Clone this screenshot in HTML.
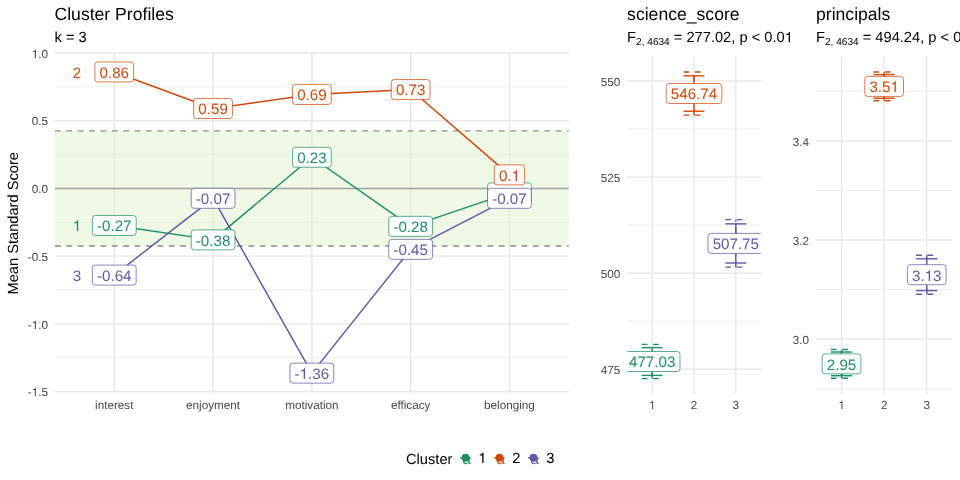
<!DOCTYPE html>
<html><head><meta charset="utf-8"><title>Cluster Profiles</title>
<style>
html,body{margin:0;padding:0;background:#fff;}
body{width:960px;height:480px;overflow:hidden;}
svg{display:block;font-family:"Liberation Sans", sans-serif;will-change:transform;}
svg text{text-rendering:geometricPrecision;}
</style></head><body>
<svg width="960" height="480" viewBox="0 0 960 480">
<rect width="960" height="480" fill="#ffffff"/>
<line x1="55.0" x2="568.75" y1="86.85" y2="86.85" stroke="#e8e8e8" stroke-width="0.71"/>
<line x1="55.0" x2="568.75" y1="154.56" y2="154.56" stroke="#e8e8e8" stroke-width="0.71"/>
<line x1="55.0" x2="568.75" y1="222.27" y2="222.27" stroke="#e8e8e8" stroke-width="0.71"/>
<line x1="55.0" x2="568.75" y1="289.99" y2="289.99" stroke="#e8e8e8" stroke-width="0.71"/>
<line x1="55.0" x2="568.75" y1="357.69" y2="357.69" stroke="#e8e8e8" stroke-width="0.71"/>
<line x1="55.0" x2="568.75" y1="53.00" y2="53.00" stroke="#e8e8e8" stroke-width="1.42"/>
<line x1="55.0" x2="568.75" y1="120.71" y2="120.71" stroke="#e8e8e8" stroke-width="1.42"/>
<line x1="55.0" x2="568.75" y1="188.42" y2="188.42" stroke="#e8e8e8" stroke-width="1.42"/>
<line x1="55.0" x2="568.75" y1="256.13" y2="256.13" stroke="#e8e8e8" stroke-width="1.42"/>
<line x1="55.0" x2="568.75" y1="323.84" y2="323.84" stroke="#e8e8e8" stroke-width="1.42"/>
<line x1="55.0" x2="568.75" y1="391.55" y2="391.55" stroke="#e8e8e8" stroke-width="1.42"/>
<line x1="114.28" x2="114.28" y1="53.0" y2="393.4" stroke="#e8e8e8" stroke-width="1.42"/>
<line x1="213.08" x2="213.08" y1="53.0" y2="393.4" stroke="#e8e8e8" stroke-width="1.42"/>
<line x1="311.88" x2="311.88" y1="53.0" y2="393.4" stroke="#e8e8e8" stroke-width="1.42"/>
<line x1="410.67" x2="410.67" y1="53.0" y2="393.4" stroke="#e8e8e8" stroke-width="1.42"/>
<line x1="509.47" x2="509.47" y1="53.0" y2="393.4" stroke="#e8e8e8" stroke-width="1.42"/>
<rect x="55.0" y="130.87" width="513.75" height="115.11" fill="#dcf0c0" fill-opacity="0.42"/>
<line x1="55.0" x2="568.75" y1="188.42" y2="188.42" stroke="#a3a3a3" stroke-width="1.42"/>
<line x1="55.0" x2="568.75" y1="130.87" y2="130.87" stroke="#8a8a8a" stroke-width="1.42" stroke-dasharray="5.69 5.69"/>
<line x1="55.0" x2="568.75" y1="245.97" y2="245.97" stroke="#8a8a8a" stroke-width="1.42" stroke-dasharray="5.69 5.69"/>
<polyline points="114.28,225.53 213.08,239.88 311.88,157.27 410.67,226.34 509.47,192.89" fill="none" stroke="#1E8F64" stroke-width="1.45" stroke-linejoin="round"/>
<polyline points="114.28,71.96 213.08,108.52 311.88,94.44 410.67,89.56 509.47,174.88" fill="none" stroke="#CE490A" stroke-width="1.45" stroke-linejoin="round"/>
<polyline points="114.28,275.09 213.08,198.31 311.88,373.13 410.67,249.36 509.47,198.31" fill="none" stroke="#6158A5" stroke-width="1.45" stroke-linejoin="round"/>
<rect x="92.39" y="215.53" width="43.77" height="20.0" rx="2.9" ry="2.9" fill="#ffffff" stroke="#1E8F64" stroke-width="0.85" stroke-opacity="0.85"/>
<text x="114.28" y="231" font-size="15.17" fill="#1E8F64" text-anchor="middle">-0.27</text>
<rect x="191.19" y="229.88" width="43.77" height="20.0" rx="2.9" ry="2.9" fill="#ffffff" stroke="#1E8F64" stroke-width="0.85" stroke-opacity="0.85"/>
<text x="213.08" y="246" font-size="15.17" fill="#1E8F64" text-anchor="middle">-0.38</text>
<rect x="292.51" y="147.27" width="38.72" height="20.0" rx="2.9" ry="2.9" fill="#ffffff" stroke="#1E8F64" stroke-width="0.85" stroke-opacity="0.85"/>
<text x="311.88" y="163" font-size="15.17" fill="#1E8F64" text-anchor="middle">0.23</text>
<rect x="388.79" y="216.34" width="43.77" height="20.0" rx="2.9" ry="2.9" fill="#ffffff" stroke="#1E8F64" stroke-width="0.85" stroke-opacity="0.85"/>
<text x="410.67" y="232" font-size="15.17" fill="#1E8F64" text-anchor="middle">-0.28</text>
<rect x="487.58" y="182.89" width="43.77" height="20.0" rx="2.9" ry="2.9" fill="#ffffff" stroke="#1E8F64" stroke-width="0.85" stroke-opacity="0.85"/>
<text x="509.47" y="199" font-size="15.17" fill="#1E8F64" text-anchor="middle">-0.03</text>
<rect x="94.92" y="61.96" width="38.72" height="20.0" rx="2.9" ry="2.9" fill="#ffffff" stroke="#CE490A" stroke-width="0.85" stroke-opacity="0.85"/>
<text x="114.28" y="78" font-size="15.17" fill="#CE490A" text-anchor="middle">0.86</text>
<rect x="193.72" y="98.52" width="38.72" height="20.0" rx="2.9" ry="2.9" fill="#ffffff" stroke="#CE490A" stroke-width="0.85" stroke-opacity="0.85"/>
<text x="213.08" y="114" font-size="15.17" fill="#CE490A" text-anchor="middle">0.59</text>
<rect x="292.51" y="84.44" width="38.72" height="20.0" rx="2.9" ry="2.9" fill="#ffffff" stroke="#CE490A" stroke-width="0.85" stroke-opacity="0.85"/>
<text x="311.88" y="100" font-size="15.17" fill="#CE490A" text-anchor="middle">0.69</text>
<rect x="391.31" y="79.56" width="38.72" height="20.0" rx="2.9" ry="2.9" fill="#ffffff" stroke="#CE490A" stroke-width="0.85" stroke-opacity="0.85"/>
<text x="410.67" y="95" font-size="15.17" fill="#CE490A" text-anchor="middle">0.73</text>
<rect x="494.33" y="164.88" width="30.29" height="20.0" rx="2.9" ry="2.9" fill="#ffffff" stroke="#CE490A" stroke-width="0.85" stroke-opacity="0.85"/>
<text x="498.93" y="181" font-size="15.17" fill="#CE490A">0.</text>
<path transform="translate(511.58,181) scale(0.01517,-0.01517)" d="M268 0L357 0L357 709L299 709C285 640 240 585 101 572L101 505L268 505Z" fill="#CE490A"/>
<rect x="92.39" y="265.09" width="43.77" height="20.0" rx="2.9" ry="2.9" fill="#ffffff" stroke="#6158A5" stroke-width="0.85" stroke-opacity="0.85"/>
<text x="114.28" y="281" font-size="15.17" fill="#6158A5" text-anchor="middle">-0.64</text>
<rect x="191.19" y="188.31" width="43.77" height="20.0" rx="2.9" ry="2.9" fill="#ffffff" stroke="#6158A5" stroke-width="0.85" stroke-opacity="0.85"/>
<text x="213.08" y="204" font-size="15.17" fill="#6158A5" text-anchor="middle">-0.07</text>
<rect x="289.99" y="363.13" width="43.77" height="20.0" rx="2.9" ry="2.9" fill="#ffffff" stroke="#6158A5" stroke-width="0.85" stroke-opacity="0.85"/>
<text x="294.59" y="379" font-size="15.17" fill="#6158A5">-</text>
<path transform="translate(299.64,379) scale(0.01517,-0.01517)" d="M268 0L357 0L357 709L299 709C285 640 240 585 101 572L101 505L268 505Z" fill="#6158A5"/>
<text x="308.07" y="379" font-size="15.17" fill="#6158A5">.36</text>
<rect x="388.79" y="239.36" width="43.77" height="20.0" rx="2.9" ry="2.9" fill="#ffffff" stroke="#6158A5" stroke-width="0.85" stroke-opacity="0.85"/>
<text x="410.67" y="255" font-size="15.17" fill="#6158A5" text-anchor="middle">-0.45</text>
<rect x="487.58" y="188.31" width="43.77" height="20.0" rx="2.9" ry="2.9" fill="#ffffff" stroke="#6158A5" stroke-width="0.85" stroke-opacity="0.85"/>
<text x="509.47" y="204" font-size="15.17" fill="#6158A5" text-anchor="middle">-0.07</text>
<path transform="translate(72.78,231) scale(0.01517,-0.01517)" d="M268 0L357 0L357 709L299 709C285 640 240 585 101 572L101 505L268 505Z" fill="#1E8F64"/>
<text x="77.00" y="78" font-size="15.17" fill="#CE490A" text-anchor="middle">2</text>
<text x="77.00" y="281" font-size="15.17" fill="#6158A5" text-anchor="middle">3</text>
<path transform="translate(31.69,58) scale(0.01173,-0.01173)" d="M268 0L357 0L357 709L299 709C285 640 240 585 101 572L101 505L268 505Z" fill="#474747"/>
<text x="38.22" y="58" font-size="11.73" fill="#474747">.0</text>
<text x="48.00" y="125" font-size="11.73" fill="#474747" text-anchor="end">0.5</text>
<text x="48.00" y="193" font-size="11.73" fill="#474747" text-anchor="end">0.0</text>
<text x="48.00" y="261" font-size="11.73" fill="#474747" text-anchor="end">-0.5</text>
<text x="27.79" y="329" font-size="11.73" fill="#474747">-</text>
<path transform="translate(31.69,329) scale(0.01173,-0.01173)" d="M268 0L357 0L357 709L299 709C285 640 240 585 101 572L101 505L268 505Z" fill="#474747"/>
<text x="38.22" y="329" font-size="11.73" fill="#474747">.0</text>
<text x="27.79" y="396" font-size="11.73" fill="#474747">-</text>
<path transform="translate(31.69,396) scale(0.01173,-0.01173)" d="M268 0L357 0L357 709L299 709C285 640 240 585 101 572L101 505L268 505Z" fill="#474747"/>
<text x="38.22" y="396" font-size="11.73" fill="#474747">.5</text>
<text x="114.28" y="409" font-size="11.73" fill="#474747" text-anchor="middle">interest</text>
<text x="213.08" y="409" font-size="11.73" fill="#474747" text-anchor="middle">enjoyment</text>
<text x="311.88" y="409" font-size="11.73" fill="#474747" text-anchor="middle">motivation</text>
<text x="410.67" y="409" font-size="11.73" fill="#474747" text-anchor="middle">efficacy</text>
<text x="509.47" y="409" font-size="11.73" fill="#474747" text-anchor="middle">belonging</text>
<text transform="translate(18,223.3) rotate(-90)" font-size="14.67" fill="#000" text-anchor="middle">Mean Standard Score</text>
<text x="54.5" y="20" font-size="17.6" fill="#000">Cluster Profiles</text>
<text x="54.5" y="42" font-size="14.67" fill="#000">k = 3</text>
<line x1="627.1" x2="760.9" y1="129.05" y2="129.05" stroke="#e8e8e8" stroke-width="0.71"/>
<line x1="627.1" x2="760.9" y1="225.15" y2="225.15" stroke="#e8e8e8" stroke-width="0.71"/>
<line x1="627.1" x2="760.9" y1="321.25" y2="321.25" stroke="#e8e8e8" stroke-width="0.71"/>
<line x1="627.1" x2="760.9" y1="81.00" y2="81.00" stroke="#e8e8e8" stroke-width="1.42"/>
<line x1="627.1" x2="760.9" y1="177.10" y2="177.10" stroke="#e8e8e8" stroke-width="1.42"/>
<line x1="627.1" x2="760.9" y1="273.20" y2="273.20" stroke="#e8e8e8" stroke-width="1.42"/>
<line x1="627.1" x2="760.9" y1="369.30" y2="369.30" stroke="#e8e8e8" stroke-width="1.42"/>
<line x1="652.19" x2="652.19" y1="56.6" y2="393.4" stroke="#e8e8e8" stroke-width="1.42"/>
<line x1="694.00" x2="694.00" y1="56.6" y2="393.4" stroke="#e8e8e8" stroke-width="1.42"/>
<line x1="735.81" x2="735.81" y1="56.6" y2="393.4" stroke="#e8e8e8" stroke-width="1.42"/>
<line x1="652.19" x2="652.19" y1="378.60" y2="344.40" stroke="#1E8F64" stroke-width="1.42" stroke-dasharray="5.69 5.69"/>
<line x1="641.73" x2="662.64" y1="344.40" y2="344.40" stroke="#1E8F64" stroke-width="1.42" stroke-dasharray="5.69 5.69"/>
<line x1="641.73" x2="662.64" y1="378.60" y2="378.60" stroke="#1E8F64" stroke-width="1.42" stroke-dasharray="5.69 5.69"/>
<line x1="652.19" x2="652.19" y1="347.60" y2="375.40" stroke="#1E8F64" stroke-width="1.42"/>
<line x1="641.73" x2="662.64" y1="347.60" y2="347.60" stroke="#1E8F64" stroke-width="1.42"/>
<line x1="641.73" x2="662.64" y1="375.40" y2="375.40" stroke="#1E8F64" stroke-width="1.42"/>
<line x1="694.00" x2="694.00" y1="115.13" y2="71.93" stroke="#CE490A" stroke-width="1.42" stroke-dasharray="5.69 5.69"/>
<line x1="683.55" x2="704.45" y1="71.93" y2="71.93" stroke="#CE490A" stroke-width="1.42" stroke-dasharray="5.69 5.69"/>
<line x1="683.55" x2="704.45" y1="115.13" y2="115.13" stroke="#CE490A" stroke-width="1.42" stroke-dasharray="5.69 5.69"/>
<line x1="694.00" x2="694.00" y1="75.83" y2="111.23" stroke="#CE490A" stroke-width="1.42"/>
<line x1="683.55" x2="704.45" y1="75.83" y2="75.83" stroke="#CE490A" stroke-width="1.42"/>
<line x1="683.55" x2="704.45" y1="111.23" y2="111.23" stroke="#CE490A" stroke-width="1.42"/>
<line x1="735.81" x2="735.81" y1="267.16" y2="219.66" stroke="#6158A5" stroke-width="1.42" stroke-dasharray="5.69 5.69"/>
<line x1="725.36" x2="746.27" y1="219.66" y2="219.66" stroke="#6158A5" stroke-width="1.42" stroke-dasharray="5.69 5.69"/>
<line x1="725.36" x2="746.27" y1="267.16" y2="267.16" stroke="#6158A5" stroke-width="1.42" stroke-dasharray="5.69 5.69"/>
<line x1="735.81" x2="735.81" y1="223.86" y2="262.96" stroke="#6158A5" stroke-width="1.42"/>
<line x1="725.36" x2="746.27" y1="223.86" y2="223.86" stroke="#6158A5" stroke-width="1.42"/>
<line x1="725.36" x2="746.27" y1="262.96" y2="262.96" stroke="#6158A5" stroke-width="1.42"/>
<clipPath id="cp627"><rect x="627.1" y="56.6" width="133.79999999999995" height="336.79999999999995"/></clipPath>
<g clip-path="url(#cp627)">
<rect x="624.39" y="351.50" width="55.59" height="20.0" rx="2.9" ry="2.9" fill="#ffffff" stroke="#1E8F64" stroke-width="0.85" stroke-opacity="0.85"/>
<text x="652.19" y="367" font-size="15.17" fill="#1E8F64" text-anchor="middle">477.03</text>
<rect x="666.21" y="83.53" width="55.59" height="20.0" rx="2.9" ry="2.9" fill="#ffffff" stroke="#CE490A" stroke-width="0.85" stroke-opacity="0.85"/>
<text x="694.00" y="99" font-size="15.17" fill="#CE490A" text-anchor="middle">546.74</text>
<rect x="708.02" y="233.41" width="55.59" height="20.0" rx="2.9" ry="2.9" fill="#ffffff" stroke="#6158A5" stroke-width="0.85" stroke-opacity="0.85"/>
<text x="735.81" y="249" font-size="15.17" fill="#6158A5" text-anchor="middle">507.75</text>
</g>
<text x="620.20" y="86" font-size="11.73" fill="#474747" text-anchor="end">550</text>
<text x="620.20" y="182" font-size="11.73" fill="#474747" text-anchor="end">525</text>
<text x="620.20" y="278" font-size="11.73" fill="#474747" text-anchor="end">500</text>
<text x="620.20" y="374" font-size="11.73" fill="#474747" text-anchor="end">475</text>
<path transform="translate(648.93,409) scale(0.01173,-0.01173)" d="M268 0L357 0L357 709L299 709C285 640 240 585 101 572L101 505L268 505Z" fill="#474747"/>
<text x="694.00" y="409" font-size="11.73" fill="#474747" text-anchor="middle">2</text>
<text x="735.81" y="409" font-size="11.73" fill="#474747" text-anchor="middle">3</text>
<text x="627.1" y="20" font-size="17.6" fill="#000">science_score</text>
<text x="627.1" y="42.3" font-size="14.67" fill="#000" style="font-kerning:none">F<tspan font-size="10.1" dy="2.7">2, 4634</tspan><tspan dy="-2.7"> = 277.02, p &lt; 0.0</tspan></text>
<path transform="translate(784.77,42.3) scale(0.01467,-0.01467)" d="M268 0L357 0L357 709L299 709C285 640 240 585 101 572L101 505L268 505Z" fill="#000"/>
<line x1="816.0" x2="952.3" y1="91.35" y2="91.35" stroke="#e8e8e8" stroke-width="0.71"/>
<line x1="816.0" x2="952.3" y1="190.45" y2="190.45" stroke="#e8e8e8" stroke-width="0.71"/>
<line x1="816.0" x2="952.3" y1="289.55" y2="289.55" stroke="#e8e8e8" stroke-width="0.71"/>
<line x1="816.0" x2="952.3" y1="388.65" y2="388.65" stroke="#e8e8e8" stroke-width="0.71"/>
<line x1="816.0" x2="952.3" y1="140.90" y2="140.90" stroke="#e8e8e8" stroke-width="1.42"/>
<line x1="816.0" x2="952.3" y1="240.00" y2="240.00" stroke="#e8e8e8" stroke-width="1.42"/>
<line x1="816.0" x2="952.3" y1="339.10" y2="339.10" stroke="#e8e8e8" stroke-width="1.42"/>
<line x1="841.56" x2="841.56" y1="56.6" y2="393.4" stroke="#e8e8e8" stroke-width="1.42"/>
<line x1="884.15" x2="884.15" y1="56.6" y2="393.4" stroke="#e8e8e8" stroke-width="1.42"/>
<line x1="926.74" x2="926.74" y1="56.6" y2="393.4" stroke="#e8e8e8" stroke-width="1.42"/>
<line x1="841.56" x2="841.56" y1="378.27" y2="349.47" stroke="#1E8F64" stroke-width="1.42" stroke-dasharray="5.69 5.69"/>
<line x1="830.91" x2="852.20" y1="349.47" y2="349.47" stroke="#1E8F64" stroke-width="1.42" stroke-dasharray="5.69 5.69"/>
<line x1="830.91" x2="852.20" y1="378.27" y2="378.27" stroke="#1E8F64" stroke-width="1.42" stroke-dasharray="5.69 5.69"/>
<line x1="841.56" x2="841.56" y1="352.02" y2="375.72" stroke="#1E8F64" stroke-width="1.42"/>
<line x1="830.91" x2="852.20" y1="352.02" y2="352.02" stroke="#1E8F64" stroke-width="1.42"/>
<line x1="830.91" x2="852.20" y1="375.72" y2="375.72" stroke="#1E8F64" stroke-width="1.42"/>
<line x1="884.15" x2="884.15" y1="100.80" y2="72.00" stroke="#CE490A" stroke-width="1.42" stroke-dasharray="5.69 5.69"/>
<line x1="873.50" x2="894.80" y1="72.00" y2="72.00" stroke="#CE490A" stroke-width="1.42" stroke-dasharray="5.69 5.69"/>
<line x1="873.50" x2="894.80" y1="100.80" y2="100.80" stroke="#CE490A" stroke-width="1.42" stroke-dasharray="5.69 5.69"/>
<line x1="884.15" x2="884.15" y1="74.60" y2="98.20" stroke="#CE490A" stroke-width="1.42"/>
<line x1="873.50" x2="894.80" y1="74.60" y2="74.60" stroke="#CE490A" stroke-width="1.42"/>
<line x1="873.50" x2="894.80" y1="98.20" y2="98.20" stroke="#CE490A" stroke-width="1.42"/>
<line x1="926.74" x2="926.74" y1="294.19" y2="255.19" stroke="#6158A5" stroke-width="1.42" stroke-dasharray="5.69 5.69"/>
<line x1="916.10" x2="937.39" y1="255.19" y2="255.19" stroke="#6158A5" stroke-width="1.42" stroke-dasharray="5.69 5.69"/>
<line x1="916.10" x2="937.39" y1="294.19" y2="294.19" stroke="#6158A5" stroke-width="1.42" stroke-dasharray="5.69 5.69"/>
<line x1="926.74" x2="926.74" y1="258.79" y2="290.58" stroke="#6158A5" stroke-width="1.42"/>
<line x1="916.10" x2="937.39" y1="258.79" y2="258.79" stroke="#6158A5" stroke-width="1.42"/>
<line x1="916.10" x2="937.39" y1="290.58" y2="290.58" stroke="#6158A5" stroke-width="1.42"/>
<clipPath id="cp816"><rect x="816.0" y="56.6" width="136.29999999999995" height="336.79999999999995"/></clipPath>
<g clip-path="url(#cp816)">
<rect x="822.20" y="353.87" width="38.72" height="20.0" rx="2.9" ry="2.9" fill="#ffffff" stroke="#1E8F64" stroke-width="0.85" stroke-opacity="0.85"/>
<text x="841.56" y="370" font-size="15.17" fill="#1E8F64" text-anchor="middle">2.95</text>
<rect x="864.79" y="76.40" width="38.72" height="20.0" rx="2.9" ry="2.9" fill="#ffffff" stroke="#CE490A" stroke-width="0.85" stroke-opacity="0.85"/>
<text x="869.39" y="92" font-size="15.17" fill="#CE490A">3.5</text>
<path transform="translate(890.48,92) scale(0.01517,-0.01517)" d="M268 0L357 0L357 709L299 709C285 640 240 585 101 572L101 505L268 505Z" fill="#CE490A"/>
<rect x="907.38" y="264.69" width="38.72" height="20.0" rx="2.9" ry="2.9" fill="#ffffff" stroke="#6158A5" stroke-width="0.85" stroke-opacity="0.85"/>
<text x="911.98" y="281" font-size="15.17" fill="#6158A5">3.</text>
<path transform="translate(924.63,281) scale(0.01517,-0.01517)" d="M268 0L357 0L357 709L299 709C285 640 240 585 101 572L101 505L268 505Z" fill="#6158A5"/>
<text x="933.07" y="281" font-size="15.17" fill="#6158A5">3</text>
</g>
<text x="809.10" y="146" font-size="11.73" fill="#474747" text-anchor="end">3.4</text>
<text x="809.10" y="245" font-size="11.73" fill="#474747" text-anchor="end">3.2</text>
<text x="809.10" y="344" font-size="11.73" fill="#474747" text-anchor="end">3.0</text>
<path transform="translate(838.29,409) scale(0.01173,-0.01173)" d="M268 0L357 0L357 709L299 709C285 640 240 585 101 572L101 505L268 505Z" fill="#474747"/>
<text x="884.15" y="409" font-size="11.73" fill="#474747" text-anchor="middle">2</text>
<text x="926.74" y="409" font-size="11.73" fill="#474747" text-anchor="middle">3</text>
<text x="816.0" y="20" font-size="17.6" fill="#000">principals</text>
<text x="816.0" y="42.3" font-size="14.67" fill="#000" style="font-kerning:none">F<tspan font-size="10.1" dy="2.7">2, 4634</tspan><tspan dy="-2.7"> = 494.24, p &lt; 0.0</tspan></text>
<text x="406" y="464" font-size="14.67" fill="#000">Cluster</text>
<line x1="460.00" x2="470.70" y1="457.85" y2="457.85" stroke="#1E8F64" stroke-width="1.3"/>
<circle cx="465.50" cy="457.8" r="3.95" fill="#1E8F64"/>
<text x="466.60" y="463.9" font-size="15.17" fill="#1E8F64" text-anchor="middle">a</text>
<path transform="translate(478.30,463) scale(0.01467,-0.01467)" d="M268 0L357 0L357 709L299 709C285 640 240 585 101 572L101 505L268 505Z" fill="#000"/>
<line x1="494.00" x2="504.70" y1="457.85" y2="457.85" stroke="#CE490A" stroke-width="1.3"/>
<circle cx="499.50" cy="457.8" r="3.95" fill="#CE490A"/>
<text x="500.60" y="463.9" font-size="15.17" fill="#CE490A" text-anchor="middle">a</text>
<text x="512.30" y="463" font-size="14.67" fill="#000" text-anchor="start">2</text>
<line x1="528.00" x2="538.70" y1="457.85" y2="457.85" stroke="#6158A5" stroke-width="1.3"/>
<circle cx="533.50" cy="457.8" r="3.95" fill="#6158A5"/>
<text x="534.60" y="463.9" font-size="15.17" fill="#6158A5" text-anchor="middle">a</text>
<text x="546.30" y="463" font-size="14.67" fill="#000" text-anchor="start">3</text>
</svg>
</body></html>
